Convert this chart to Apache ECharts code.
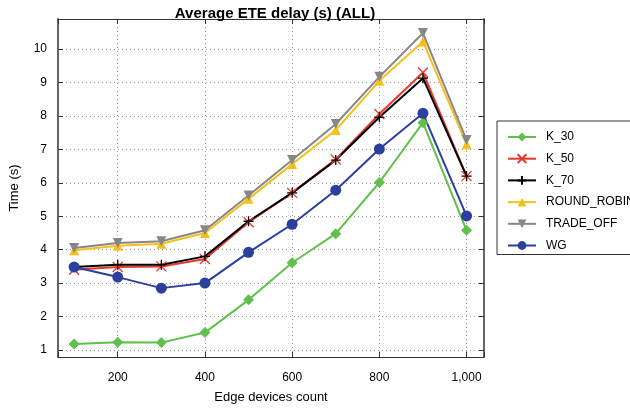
<!DOCTYPE html>
<html>
<head>
<meta charset="utf-8">
<script src="https://cdn.jsdelivr.net/npm/echarts@6/dist/echarts.min.js"></script>
<style>html,body{margin:0;padding:0;background:#fff}#c{width:630px;height:409px}</style>
</head>
<body>
<div id="c"></div>
<script>
const xValues = [100, 200, 300, 400, 500, 600, 700, 800, 900, 1000];
const k30 = [1.18, 1.23, 1.22, 1.52, 2.5, 3.61, 4.48, 6.01, 7.8, 4.58];
const k50 = [3.4, 3.48, 3.5, 3.72, 4.82, 5.7, 6.7, 8.06, 9.3, 6.2];
const k70 = [3.48, 3.55, 3.55, 3.8, 4.85, 5.7, 6.68, 7.96, 9.13, 6.2];
const roundRobin = [3.98, 4.12, 4.18, 4.5, 5.52, 6.56, 7.58, 9.05, 10.23, 7.15];
const tradeOff = [4.05, 4.2, 4.25, 4.58, 5.62, 6.68, 7.76, 9.17, 10.48, 7.28];
const wg = [3.48, 3.18, 2.85, 3.0, 3.92, 4.76, 5.78, 7.01, 8.08, 5.01];
const xTickLabels = {200: '200', 400: '400', 600: '600', 800: '800', 1000: '1,000'};
const yTickLabels = [1, 2, 3, 4, 5, 6, 7, 8, 9, 10];

const font = 'Liberation Sans, Arial, sans-serif';
const pair = arr => xValues.map((x, i) => [x, arr[i]]);
const xPath = 'path://M0,0L10,10M10,0L0,10';
const plusPath = 'path://M5,0L5,10M0,5L10,5';

function mk(name, data, color, symbol, size, extra) {
  return Object.assign({
    name, type: 'line', data: pair(data), symbol, symbolSize: size,
    lineStyle: {color, width: 2}, itemStyle: {color, borderColor: color, borderWidth: 0},
    emphasis: {disabled: true}, animation: false
  }, extra || {});
}

const chart = echarts.init(document.getElementById('c'));
const tick = {show: true, inside: true, length: 5, lineStyle: {color: '#333'}};
chart.setOption({
  animation: false,
  title: {
    text: 'Average ETE delay (s) (ALL)', left: 270, top: 1, textAlign: 'center',
    textStyle: {fontFamily: font, fontSize: 15, fontWeight: 'bold', color: '#000'}
  },
  grid: {left: 53, right: 146, top: 19, bottom: 52, containLabel: false},
  legend: {
    left: 497, top: 121, orient: 'vertical', padding: [10, 10, 3, 10], itemGap: 9.7,
    itemWidth: 28, itemHeight: 11, borderColor: '#333', borderWidth: 1, backgroundColor: '#fff',
    textStyle: {fontFamily: font, fontSize: 12, color: '#000', padding: [0, 0, 0, 5]},
    data: ['K_30', 'K_50', 'K_70', 'ROUND_ROBIN', 'TRADE_OFF', 'WG']
  },
  xAxis: [
    {
      type: 'value', min: 63, max: 1040, splitNumber: 5, position: 'bottom',
      name: 'Edge devices count', nameLocation: 'middle', nameGap: 34,
      nameTextStyle: {fontFamily: font, fontSize: 13, color: '#000'},
      axisLine: {show: true, onZero: false, lineStyle: {color: '#333', width: 1}},
      axisTick: tick,
      axisLabel: {
        margin: 15, fontFamily: font, fontSize: 12, color: '#000',
        formatter: v => xTickLabels[v] ? (v === 1000 ? '{r|1,000}' : xTickLabels[v]) : '',
        rich: {r: {fontFamily: font, fontSize: 12, color: '#000', padding: [0, 0, 6, 0]}}
      },
      splitLine: {show: true, lineStyle: {color: '#999', width: 1, type: [1, 3]}}
    },
    {
      type: 'value', min: 63, max: 1040, splitNumber: 5, position: 'top',
      axisLine: {show: true, onZero: false, lineStyle: {color: '#333', width: 1}},
      axisTick: tick, axisLabel: {show: false}, splitLine: {show: false}
    }
  ],
  yAxis: [
    {
      type: 'value', min: 0.79, max: 10.9, splitNumber: 10, position: 'left',
      name: 'Time (s)', nameLocation: 'middle', nameGap: 37, nameRotate: 90,
      nameTextStyle: {fontFamily: font, fontSize: 13, color: '#000'},
      axisLine: {show: true, onZero: false, lineStyle: {color: '#666', width: 2}},
      axisTick: tick,
      axisLabel: {
        margin: 11, fontFamily: font, fontSize: 12, color: '#000',
        formatter: v => yTickLabels.includes(v) ? String(v) : ''
      },
      splitLine: {show: true, lineStyle: {color: '#999', width: 1, type: [1, 3]}}
    },
    {
      type: 'value', min: 0.79, max: 10.9, splitNumber: 10, position: 'right',
      axisLine: {show: true, onZero: false, lineStyle: {color: '#666', width: 2}},
      axisTick: tick, axisLabel: {show: false}, splitLine: {show: false}
    }
  ],
  series: [
    mk('K_30', k30, '#5fc14b', 'diamond', 11),
    mk('K_50', k50, '#e5392c', xPath, 10, {itemStyle: {color: '#e5392c', borderColor: '#e5392c', borderWidth: 1.3}}),
    mk('K_70', k70, '#000000', plusPath, 10, {itemStyle: {color: '#000', borderColor: '#000', borderWidth: 1.3}}),
    mk('ROUND_ROBIN', roundRobin, '#f6c01b', 'triangle', 10),
    mk('TRADE_OFF', tradeOff, '#878787', 'triangle', 10, {symbolRotate: 180}),
    mk('WG', wg, '#2b3f9f', 'circle', 11)
  ]
});
</script>
</body>
</html>
